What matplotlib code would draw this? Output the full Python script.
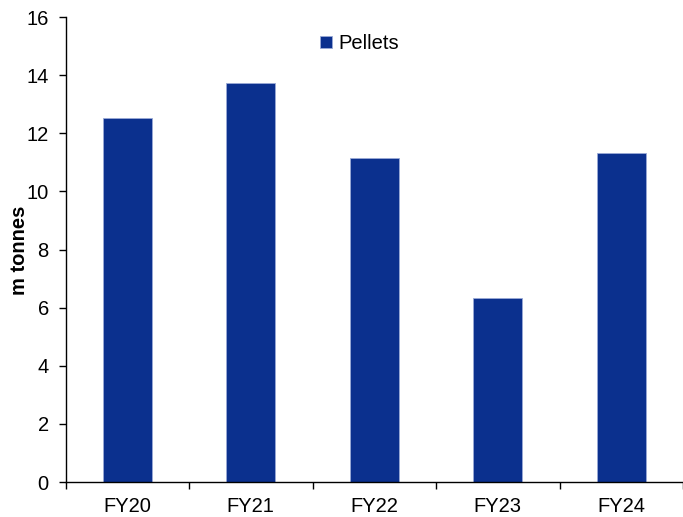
import matplotlib
matplotlib.use("Agg")
import matplotlib.pyplot as plt
import numpy as np
from matplotlib.ticker import FixedLocator

categories = ["FY20", "FY21", "FY22", "FY23", "FY24"]
pellets = [12.53, 13.73, 11.15, 6.33, 11.32]
yticks = [0, 2, 4, 6, 8, 10, 12, 14, 16]

plt.rcParams['font.family'] = ['Liberation Sans', 'DejaVu Sans']
FS = 14.5

fig = plt.figure(figsize=(6.83, 5.17), dpi=100)
ax = fig.add_axes([65.5/683, 1-482/517, (683-65.5)/683, (482-17)/517])

x = np.arange(len(categories))
ax.bar(x, pellets, width=0.4, color='#0B308E', edgecolor='#9AAAD6', linewidth=0.6, label='Pellets')

ax.set_xlim(-0.5, len(categories) - 0.5)
ax.set_ylim(0, 16)
ax.set_yticks(yticks)
ax.set_xticks(x)
ax.set_xticklabels(categories, fontsize=FS)
ax.xaxis.set_minor_locator(FixedLocator(np.arange(-0.5, len(categories), 1.0)))
ax.tick_params(axis='x', which='major', length=0, pad=11)
ax.tick_params(axis='x', which='minor', length=5, direction='out', width=1)
ax.tick_params(axis='y', length=5, direction='out', labelsize=FS, width=1, pad=7)

fig.text(20/683, 1-250/517, "m tonnes", fontsize=FS, fontweight='bold',
         rotation=90, ha='center', va='center')

for s in ['top', 'right']:
    ax.spines[s].set_visible(False)
for s in ['left', 'bottom']:
    ax.spines[s].set_linewidth(1)
    ax.spines[s].set_color('black')

leg = fig.legend(loc='upper left', bbox_to_anchor=(312/683, 1-26/517), frameon=False,
                 fontsize=FS, handlelength=0.6, handleheight=0.6, handletextpad=0.3,
                 borderaxespad=0, borderpad=0.4)

fig.savefig("out.png", dpi=100)
